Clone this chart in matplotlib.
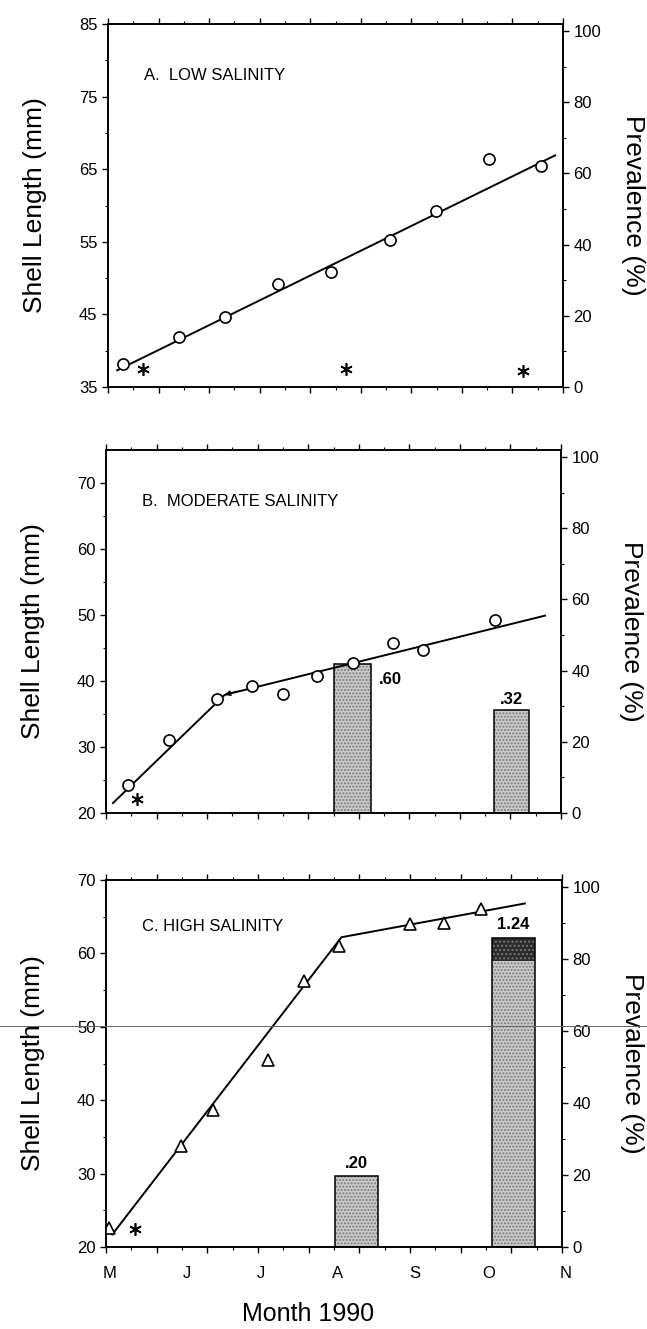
import numpy as np
import matplotlib
matplotlib.use("Agg")
import matplotlib.pyplot as plt
from matplotlib.lines import Line2D

plt.rcParams['font.family'] = ['Liberation Sans', 'DejaVu Sans']

# x values are days after 1 May 1990
month_days = [0, 31, 61, 92, 123, 153, 184]
month_labels = ['M', 'J', 'J', 'A', 'S', 'O', 'N']

# A. low salinity
a_days = [6.2, 28.9, 47.2, 68.9, 90.0, 114.2, 132.5, 154.2, 175.0]
a_len = [38.2, 41.9, 44.6, 49.2, 50.8, 55.3, 59.2, 66.4, 65.4]
a_fit_days = [3.7, 180.8]
a_fit_len = [37.3, 66.9]
a_star_days = [14.2, 96.2, 167.8]
a_star_prev = [5, 5, 4.5]

# B. moderate salinity
b_days = [8.8, 25.5, 44.7, 59.2, 71.7, 85.5, 100.0, 116.2, 128.3, 157.5]
b_len = [24.3, 31.0, 37.2, 39.2, 38.0, 40.7, 42.8, 45.8, 44.7, 49.3]
b_fit_days = [2.8, 48.0, 177.5]
b_fit_len = [21.5, 37.9, 49.9]
b_bar_days = [99.6, 164.0]
b_bar_width = [14.8, 14.0]
b_bar_prev = [42, 29]
b_bar_text = ['.60', '.32']
b_star_days = [12.5]
b_star_prev = [4]

# C. high salinity
c_days = [1.2, 30.3, 43.3, 65.5, 80.0, 94.2, 122.8, 136.2, 151.2]
c_len = [22.6, 33.7, 38.7, 45.5, 56.3, 61.0, 64.0, 64.1, 66.0]
c_fit_days = [2.5, 95.0, 169.0]
c_fit_len = [21.7, 62.2, 66.8]
c_bar_days = [101.0, 164.4]
c_bar_width = [17.5, 17.2]
c_bar_light = [19.6, 79.6]
c_bar_dark = [0, 6.3]
c_bar_text = ['.20', '1.24']
c_star_days = [11.7]
c_star_prev = [5]

fig = plt.figure(figsize=(6.47, 13.29), dpi=100)

W, H = 647, 1329
def add_axes(left, top, right, bottom):
    return fig.add_axes([left / W, 1 - bottom / H, (right - left) / W, (bottom - top) / H])

def style(ax, ax2, yticks, yminor, ylim, title, ty):
    ax.set_xlim(0, 184)
    ax.set_ylim(*ylim)
    ax.set_yticks(yticks)
    ax.set_yticks(yminor, minor=True)
    xt = np.linspace(0, 184, 10)
    ax.set_xticks(xt)
    ax.set_xticks((xt[:-1] + xt[1:]) / 2, minor=True)
    ax.tick_params(axis='x', which='both', labelbottom=False, top=True, direction='out')
    ax.tick_params(which='major', length=4, width=1, labelsize=12)
    ax.tick_params(which='minor', length=2, width=0.8)
    ax2.set_ylim(0, 102)
    ax2.set_yticks([0, 20, 40, 60, 80, 100])
    ax2.set_yticks([10, 30, 50, 70, 90], minor=True)
    ax2.tick_params(which='major', length=4, width=1, labelsize=12)
    ax2.tick_params(which='minor', length=2, width=0.8)
    for a in (ax, ax2):
        for s in a.spines.values():
            s.set_linewidth(1.2)
    ax.set_ylabel('Shell Length (mm)', fontsize=19)
    ax.yaxis.set_label_coords(-0.134, 0.5)
    ax2.set_ylabel('Prevalence (%)', fontsize=19, rotation=270, va='center')
    ax2.yaxis.set_label_coords(1.154, 0.5)
    ax.text(0.079, ty, title, transform=ax.transAxes, fontsize=12)
    # data on top of bars
    ax.set_zorder(ax2.get_zorder() + 1)
    ax.patch.set_visible(False)

star = dict(marker=(6, 2, 0), color='black', markersize=9, linestyle='none', markeredgewidth=1.2)
circ = dict(marker='o', markerfacecolor='white', markeredgecolor='black', markersize=8,
            markeredgewidth=1.2, linestyle='none')

# panel A
axA = add_axes(108, 24, 563, 387)
axA2 = axA.twinx()
style(axA, axA2, [35, 45, 55, 65, 75, 85], [40, 50, 60, 70, 80], (35, 85), 'A.  LOW SALINITY', 0.846)
axA.plot(a_fit_days, a_fit_len, color='black', lw=1.4)
axA.plot(a_days, a_len, **circ)
axA2.plot(a_star_days, a_star_prev, **star)

# panel B
axB = add_axes(106, 450, 561, 813)
axB2 = axB.twinx()
style(axB, axB2, [20, 30, 40, 50, 60, 70], [25, 35, 45, 55, 65], (20, 75),
      'B.  MODERATE SALINITY', 0.846)
axB2.bar(b_bar_days, b_bar_prev, width=b_bar_width, color='#cbcbcb', edgecolor='#7a7a7a',
         hatch='.....', linewidth=0)
axB2.bar(b_bar_days, b_bar_prev, width=b_bar_width, fill=False, edgecolor='black', linewidth=1.1)
axB2.text(b_bar_days[0] + b_bar_width[0] / 2 + 3.5, b_bar_prev[0] - 4.5, b_bar_text[0],
          fontsize=12, fontweight='bold', ha='left', va='center')
axB2.annotate(b_bar_text[1], (b_bar_days[1], b_bar_prev[1]), xytext=(0, 2),
              textcoords='offset points', ha='center', va='bottom', fontsize=12, fontweight='bold')
axB.plot(b_fit_days, b_fit_len, color='black', lw=1.4)
# small arrowhead where the second fitted segment starts
axB.annotate('', xy=(b_fit_days[1], b_fit_len[1]), xytext=(b_fit_days[1] + 5, b_fit_len[1] + 0.55),
             arrowprops=dict(arrowstyle='-|>', color='black', lw=1.0, mutation_scale=8,
                             shrinkA=0, shrinkB=0))
axB.plot(b_days, b_len, **circ)
axB2.plot(b_star_days, b_star_prev, **star)

# panel C
axC = add_axes(106, 880, 562, 1247)
axC2 = axC.twinx()
style(axC, axC2, [20, 30, 40, 50, 60, 70], [25, 35, 45, 55, 65], (20, 70),
      'C. HIGH SALINITY', 0.861)
axC2.bar(c_bar_days, c_bar_light, width=c_bar_width, color='#cbcbcb', edgecolor='#7a7a7a',
         hatch='.....', linewidth=0)
axC2.bar(c_bar_days, c_bar_dark, bottom=c_bar_light, width=c_bar_width, color='#2a2a2a',
         edgecolor='#777777', hatch='....', linewidth=0)
tops = np.array(c_bar_light) + np.array(c_bar_dark)
axC2.bar(c_bar_days, tops, width=c_bar_width, fill=False, edgecolor='black', linewidth=1.1)
for d, t, s in zip(c_bar_days, tops, c_bar_text):
    axC2.annotate(s, (d, t), xytext=(0, 4), textcoords='offset points', ha='center',
                  va='bottom', fontsize=12, fontweight='bold')
axC.plot(c_fit_days, c_fit_len, color='black', lw=1.4)
axC.plot(c_days, c_len, marker='^', markerfacecolor='white', markeredgecolor='black',
         markersize=9, markeredgewidth=1.2, linestyle='none')
axC2.plot(c_star_days, c_star_prev, **star)
for d, m in zip(month_days, month_labels):
    axC.text(d + 1.5, -0.072, m, transform=axC.get_xaxis_transform(), ha='center',
             va='center', fontsize=12)

fig.text(0.476, 0.002, 'Month 1990', fontsize=18, ha='center', va='bottom')

# faint fold line across the scanned page
fig.add_artist(Line2D([0, 1], [1 - 1026 / H] * 2, color='#666666', lw=0.7))

fig.savefig('out.png', dpi=100)
